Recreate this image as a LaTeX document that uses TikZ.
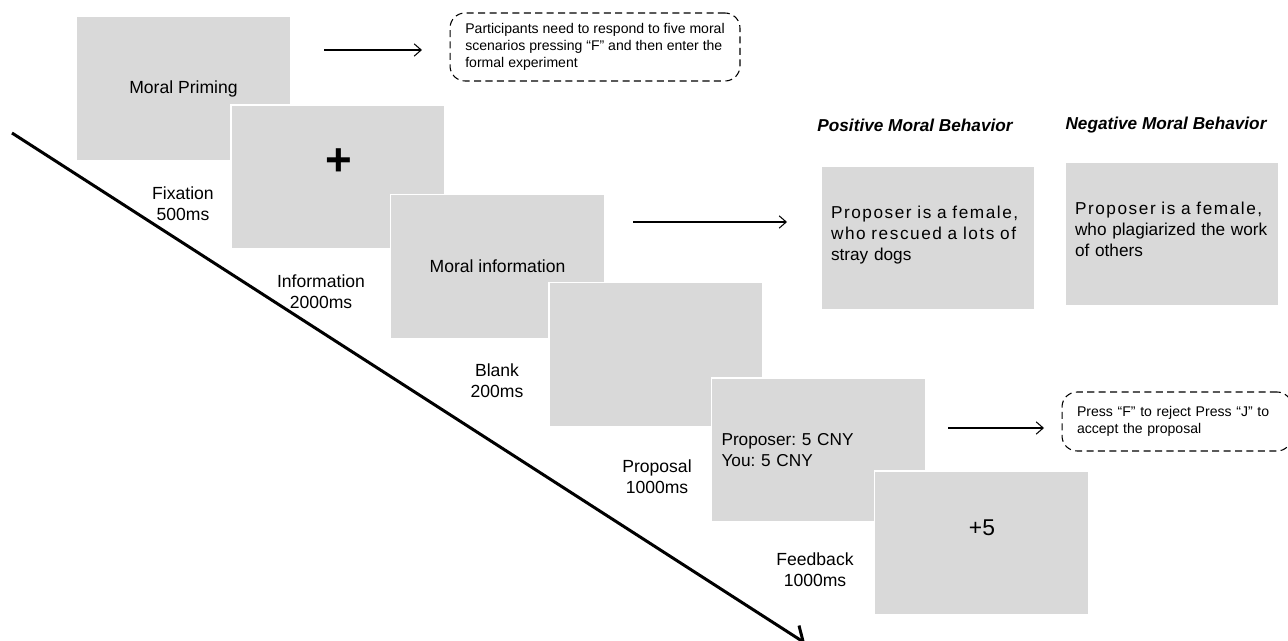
\documentclass[tikz,border=0pt]{standalone}
\usepackage{fontspec}
\setmainfont{Liberation Sans}
\newfontfamily\spaced[LetterSpace=9, WordSpace=1.6]{Liberation Sans}
\usetikzlibrary{arrows.meta}

\definecolor{scrgray}{RGB}{217,217,217}
\frenchspacing
% lift a text block inside its screen
\newcommand{\liftby}[1]{\par\nointerlineskip\vspace{#1}\hbox{}}

\begin{document}
\begin{tikzpicture}[x=0.02cm, y=-0.02cm,
  screen/.style={fill=scrgray, draw=white, line width=0.8pt, minimum width=4.28cm, minimum height=2.88cm, inner sep=0pt, font=\fontsize{10}{12}\selectfont},
  textscreen/.style={screen, text width=3.88cm, inner xsep=0.2cm, align=left, font=\fontsize{9.8}{12}\selectfont},
  timelabel/.style={align=center, font=\fontsize{10}{12}\selectfont},
  headline/.style={font=\fontsize{9.8}{12}\selectfont\bfseries\itshape},
  note/.style={draw, dashed, line width=0.6pt, dash pattern=on 4pt off 2.5pt, rounded corners=0.3cm, align=left, inner xsep=0.3cm, font=\fontsize{8}{9.6}\selectfont},
  thin arrow/.style={line width=0.6pt, -{Straight Barb[length=4pt, width=7pt]}}]

\useasboundingbox (0,0) rectangle (1288,641);

% screens of one trial
\node[screen] (prime) at (183.5,88.5) {Moral Priming};
\node[screen] (fix) at (338,177) {};
\node[font=\fontsize{26}{26}\selectfont\bfseries] (cross) at (339,162) {+};
\node[screen] (info) at (497.5,266.5) {Moral information};
\node[screen] (blank) at (656,354.5) {};
\node[textscreen] (offer) at (818.5,450) {Proposer: 5 CNY\\You: 5 CNY};
\node[screen] (fb) at (981.5,543) {};
\node[font=\fontsize{13}{13}\selectfont] (gain) at (982,528) {+5};

% timeline
\coordinate (tstart) at (12,133);
\coordinate (tend) at (805,643);
\draw[line width=1.7pt, -{Straight Barb[length=7pt, width=13pt]}] (tstart) -- (tend);

% durations
\node[timelabel] (lfix) at (183,204) {Fixation\\500ms};
\node[timelabel] (linfo) at (321,292) {Information\\2000ms};
\node[timelabel] (lblank) at (497,381) {Blank\\200ms};
\node[timelabel] (lprop) at (657,477) {Proposal\\1000ms};
\node[timelabel] (lfb) at (815,570) {Feedback\\1000ms};

% moral information
\node[headline] (hpos) at (915,125) {Positive Moral Behavior};
\node[headline] (hneg) at (1166,125) {Negative Moral Behavior};
\node[textscreen] (pos) at (928,238) {{\spaced Proposer is a female,}\\{\spaced who rescued a lots of}\\stray dogs\liftby{0.12cm}};
\node[textscreen] (neg) at (1172,234) {{\spaced Proposer is a female,}\\who plagiarized the work\\of others\liftby{0.18cm}};

% notes
\node[note, minimum width=5.8cm, minimum height=1.36cm] (nprime) at (595,47) {Participants need to respond to five moral\\scenarios pressing “F” and then enter the\\formal experiment};
\node[note, minimum width=4.6cm, minimum height=1.18cm, text width=4.0cm] (nresp) at (1177,421.5) {Press “F” to reject Press “J” to\\accept the proposal};

\coordinate (a1s) at (324,50);
\coordinate (a1e) at (422,50);
\coordinate (a2s) at (633,222);
\coordinate (a2e) at (787,222);
\coordinate (a3s) at (948,428);
\coordinate (a3e) at (1044,428);
\draw[thin arrow] (a1s) -- (a1e);
\draw[thin arrow] (a2s) -- (a2e);
\draw[thin arrow] (a3s) -- (a3e);

\end{tikzpicture}
\end{document}
